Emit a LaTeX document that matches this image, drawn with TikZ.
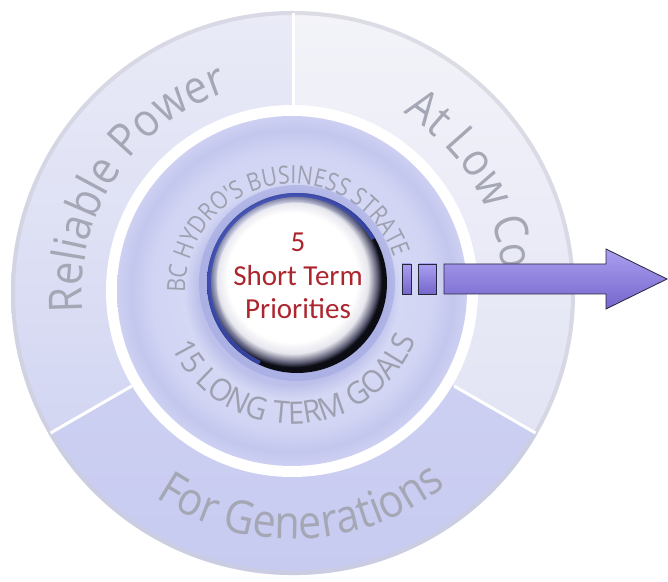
\documentclass[tikz,border=0pt]{standalone}
\usepackage{fontspec}
\usetikzlibrary{positioning,decorations.text}
\newfontfamily\ringfont[FakeStretch=0.9]{Open Sans}
\newfontfamily\midringfont[FakeStretch=0.85]{Open Sans}
\newfontfamily\lowringfont[FakeStretch=0.95]{Open Sans}
\newfontfamily\priofont{Carlito}

\definecolor{ringtext}{HTML}{A5A7B5}
\definecolor{midtext}{HTML}{9EA0B0}
\definecolor{priored}{HTML}{AC262E}
\definecolor{lefttop}{HTML}{EAEBF7}
\definecolor{leftbot}{HTML}{D3D6F2}
\definecolor{righttop}{HTML}{F3F3F9}
\definecolor{rightbot}{HTML}{E2E4F4}
\definecolor{bottop}{HTML}{CFD2F2}
\definecolor{botbot}{HTML}{C6CAF0}
\definecolor{rimgray}{HTML}{CDCED8}
\definecolor{midA}{HTML}{BCC0EA}
\definecolor{midB}{HTML}{D5D8F4}
\definecolor{midC}{HTML}{D1D4F3}
\definecolor{midD}{HTML}{C3C7EE}
\definecolor{midE}{HTML}{CDD0F1}
\definecolor{halo}{HTML}{9CA3E0}
\definecolor{rimblue}{HTML}{3C4DB8}
\definecolor{rimdark}{HTML}{0C0C14}
\definecolor{discgray}{HTML}{E6E6EE}
\definecolor{discmid}{HTML}{55566E}
\definecolor{arrowtop}{HTML}{A99FF0}
\definecolor{arrowbot}{HTML}{7566CC}
\definecolor{arrowline}{HTML}{26263A}

\newcommand{\outerstyle}{\ringfont\fontsize{46}{48}\selectfont\color{ringtext}}
\newcommand{\topmidstyle}{\midringfont\fontsize{25}{26}\selectfont\color{midtext}}
\newcommand{\botmidstyle}{\lowringfont\fontsize{31}{32}\selectfont\color{midtext}}

\pgfdeclareradialshading{midring}{\pgfpoint{0bp}{0bp}}{color(0bp)=(midA); color(13.3bp)=(midA); color(15.5bp)=(midB); color(20bp)=(midC); color(23bp)=(midD); color(25bp)=(midE); color(50bp)=(midE)}
\pgfdeclareradialshading{priodisk}{\pgfpoint{-2bp}{2.4bp}}{color(0bp)=(white); color(18bp)=(white); color(21bp)=(discgray); color(23.5bp)=(discmid); color(24.6bp)=(rimdark); color(25bp)=(rimdark); color(50bp)=(rimdark)}

\begin{document}
\begin{tikzpicture}[x=1pt, y=1pt,
  divider/.style={draw=white, line width=3pt},
  rim/.style={draw=rimgray, line width=4pt, opacity=.6},
  bar/.style={rectangle, draw=arrowline, line width=.8pt, top color=arrowtop, bottom color=arrowbot, minimum height=30pt, inner sep=0pt}]

\useasboundingbox (0,0) rectangle (668,581);
\fill[white] (0,0) rectangle (668,581);

\coordinate (O) at (293,288);
\coordinate (M) at (292,290);
\coordinate (I) at (297,298);

% OUTER RING

\shade[top color=lefttop, bottom color=leftbot] (O) -- ++(90:282pt) arc[start angle=90, end angle=210, radius=282pt] -- cycle;
\shade[top color=righttop, bottom color=rightbot] (O) -- ++(-30:282pt) arc[start angle=-30, end angle=90, radius=282pt] -- cycle;
\shade[top color=bottop, bottom color=botbot] (O) -- ++(210:282pt) arc[start angle=210, end angle=330, radius=282pt] -- cycle;
\draw[rim] (O) circle[radius=280pt];

\draw[divider] (O) ++(90:186pt) -- ++(90:94pt);
\draw[divider] (O) ++(210:186pt) -- ++(210:94pt);
\draw[divider] (O) ++(330:186pt) -- ++(330:94pt);

\path[decorate, decoration={text along path, text align=center, text={|\outerstyle|Reliable Power}}] (O) ++(206.5:211pt) arc[start angle=206.5, end angle=86.5, radius=211pt];
\path[decorate, decoration={text along path, text={|\outerstyle|At Low Cos}}] (O) ++(58.5:211pt) arc[start angle=58.5, end angle=-30, radius=211pt];
\path[decorate, decoration={text along path, text={|\outerstyle|For Generations}}] (O) ++(236:246pt) arc[start angle=236, end angle=330, radius=246pt];

% MIDDLE RING

\fill[white] (M) circle[radius=186pt];
\shade[shading=midring] (M) circle[radius=175pt];

\path[decorate, decoration={text along path, text={|\topmidstyle|BC HYDRO'S BUSINESS STRATE}}] (M) ++(181:107pt) arc[start angle=181, end angle=-10, radius=107pt];
\path[decorate, decoration={text along path, text={|\botmidstyle|15 LONG TERM GOALS}}] (M) ++(205:133pt) arc[start angle=205, end angle=350, radius=133pt];

% PRIORITIES

\draw[draw=halo, line width=8pt, opacity=.5] (I) circle[radius=94pt];
\shade[shading=priodisk] (I) circle[radius=90pt];
\draw[draw=rimblue, line width=4pt, opacity=.85] (I) ++(30:88pt) arc[start angle=30, end angle=245, radius=88pt];
\draw[draw=rimblue, line width=5pt, opacity=.15] (I) ++(40:83pt) arc[start angle=40, end angle=235, radius=83pt];

\node[align=center, text=priored, font=\priofont\fontsize{29}{33.5}\selectfont] (short-term) at (298,305) {5\\Short Term\\Priorities};

% ARROW

\node[bar, minimum width=9pt] (bar-one) at (406.5,302) {};
\node[bar, minimum width=18pt, right=7pt of bar-one] (bar-two) {};
\shade[top color=arrowtop, bottom color=arrowbot, draw=arrowline, line width=.8pt] (444,287) -- (606,287) -- (606,272) -- (667,302) -- (606,332) -- (606,317) -- (444,317) -- cycle;

\end{tikzpicture}
\end{document}
